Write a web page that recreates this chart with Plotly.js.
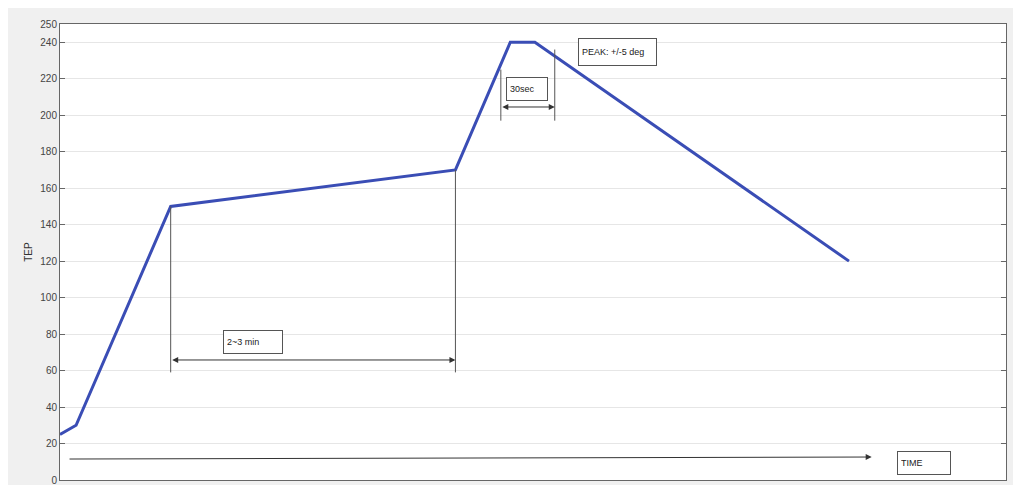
<!DOCTYPE html>
<html><head><meta charset="utf-8">
<script src="https://cdn.plot.ly/plotly-3.0.1.min.js"></script>
<style>html,body{margin:0;padding:0;background:#fff;}#chart{position:absolute;left:8px;top:8px;width:1005px;height:477px;}</style>
</head><body><div id="chart"></div>
<script>
// Temperature profile (time in arbitrary units, 0-100 across the axis)
const timePts = [0, 1.7, 11.7, 41.8, 47.6, 50.2, 83.4];
const tempPts = [25, 30, 150, 170, 240, 240, 120];
const yTicks = [0, 20, 40, 60, 80, 100, 120, 140, 160, 180, 200, 220, 240, 250];

const gray = '#333';
const font = {family: 'Liberation Sans, Arial, sans-serif', size: 9, color: '#222'};

function vline(x, y0, y1){
  return {type:'line', xref:'x', yref:'y', x0:x, x1:x, y0:y0, y1:y1, line:{color:'#555', width:1}};
}
function dblArrow(x0, x1, y){
  return {x:x1, y:y, ax:x0, ay:y, axref:'x', ayref:'y', xref:'x', yref:'y', text:'', showarrow:true,
    arrowhead:2, startarrowhead:2, arrowside:'end+start', arrowsize:1.2, startarrowsize:1.2, arrowwidth:1, arrowcolor:gray};
}
function box(text, x, y, w, h){
  return {x:x, y:y, xref:'x', yref:'y', xanchor:'left', yanchor:'top', text:text, showarrow:false,
    width:w - 8, height:h - 4, align:'left', valign:'middle', bordercolor:'#555', borderwidth:1, borderpad:3,
    bgcolor:'#fff', font:font};
}

const data = [{
  x: timePts, y: tempPts, type:'scatter', mode:'lines',
  line:{color:'#3a4db5', width:3}, hoverinfo:'skip'
}];

const layout = {
  paper_bgcolor:'#f0f0f0', plot_bgcolor:'#fff',
  margin:{l:52, r:7, t:16, b:5},
  showlegend:false,
  xaxis:{range:[0,100], showticklabels:false, ticks:'', showgrid:false, zeroline:false,
    showline:true, linecolor:'#666', linewidth:1, mirror:true},
  yaxis:{range:[0,250], tickvals:yTicks, ticktext:yTicks.map(String), ticks:'inside', ticklen:5,
    tickcolor:'#666', mirror:'ticks', showline:true, linecolor:'#666', linewidth:1,
    showgrid:true, gridcolor:'#e6e6e6', zeroline:false, ticklabeloverflow:'allow',
    tickfont:{family:'Liberation Sans, Arial, sans-serif', size:10, color:'#444'},
    title:{text:'TEP', font:{family:'Liberation Sans, Arial, sans-serif', size:10, color:'#333'}, standoff:5}},
  shapes:[
    vline(timePts[2], tempPts[2], 59),
    vline(timePts[3], tempPts[3], 59),
    vline(46.6, 225, 197),
    vline(52.3, 236, 197)
  ],
  annotations:[
    dblArrow(timePts[2], timePts[3], 65.8),
    dblArrow(46.6, 52.3, 204.5),
    {x:85.8, y:12.6, ax:0.85, ay:11.5, axref:'x', ayref:'y', xref:'x', yref:'y', text:'', showarrow:true,
      arrowhead:2, arrowsize:1.2, arrowwidth:1, arrowcolor:gray},
    box('2~3 min', 17.2, 82.2, 60, 20),
    box('30sec', 47.1, 221, 42, 20),
    box('PEAK: +/-5 deg', 54.8, 242.3, 79, 24),
    box('TIME', 88.5, 15.9, 54, 20)
  ]
};

Plotly.newPlot('chart', data, layout, {displayModeBar:false, staticPlot:true});
</script></body></html>
